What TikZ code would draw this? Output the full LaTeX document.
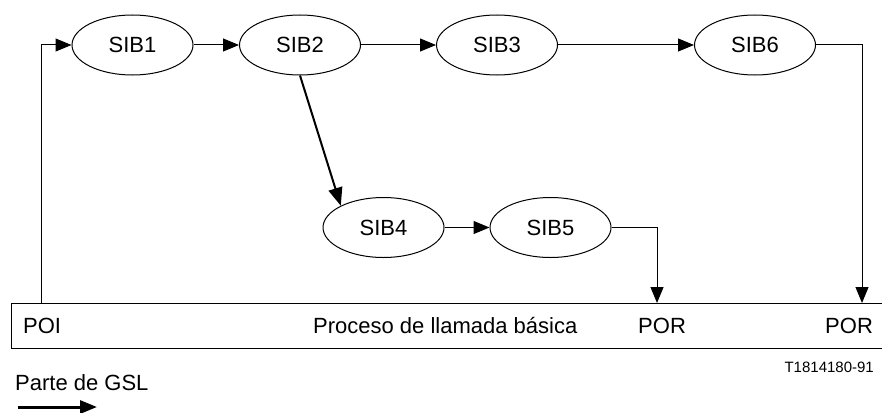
\documentclass[tikz,border=0pt]{standalone}
\usepackage{fontspec}
\setmainfont{Liberation Sans}
\usetikzlibrary{arrows.meta,shapes.geometric}
\begin{document}
\begin{tikzpicture}[x=1pt,y=-1pt,
  sib/.style={draw,ellipse,line width=1pt,minimum width=121pt,minimum height=60pt,inner sep=0pt,
    font=\fontsize{22pt}{26pt}\selectfont},
  flow/.style={line width=1pt,-{Triangle[length=16pt,width=13pt]}},
  txt/.style={inner sep=0pt,font=\fontsize{22pt}{26pt}\selectfont}]
\useasboundingbox (0,0) rectangle (882,412);

% service independent building blocks
\node[sib] (s1) at (132.5,45) {SIB1};
\node[sib] (s2) at (300,45) {SIB2};
\node[sib] (s3) at (497,45) {SIB3};
\node[sib] (s6) at (755,45) {SIB6};
\node[sib] (s4) at (383.5,227.5) {SIB4};
\node[sib] (s5) at (550.5,227.5) {SIB5};

% basic call process bar (open towards the right)
\draw[line width=1pt] (890,303) -- (11,303) -- (11,348) -- (890,348);
\node[txt,anchor=base west] (poi) at (23,333) {POI};
\node[txt,anchor=base west] (bcp) at (313,333) {Proceso de llamada básica};
\node[txt,anchor=base west] (por1) at (638,333) {POR};
\node[txt,anchor=base west] (por2) at (825,333) {POR};

\coordinate (pin) at (41,303);
\coordinate (ret1) at (657,303);
\coordinate (ret2) at (862,303);

% global service logic chain
\draw[flow] (pin) |- (s1.west);
\draw[flow] (s1.east) -- (s2.west);
\draw[flow] (s2.east) -- (s3.west);
\draw[flow] (s3.east) -- (s6.west);
\draw[flow] (s6.east) -| (ret2);
\draw[line width=2pt,-{Triangle[length=18pt,width=14pt]}] (s2.south) -- (s4.153);
\draw[flow] (s4.east) -- (s5.west);
\draw[flow] (s5.east) -| (ret1);

% figure reference and legend
\node[inner sep=0pt,anchor=base east,font=\fontsize{15pt}{18pt}\selectfont] (ref) at (874,372) {T1814180-91};
\node[txt,anchor=base west] (leg) at (15,390) {Parte de GSL};
\coordinate (la) at (18,407);
\coordinate (lb) at (97,407);
\draw[line width=3pt,-{Triangle[length=17pt,width=13pt]}] (la) -- (lb);
\end{tikzpicture}
\end{document}
